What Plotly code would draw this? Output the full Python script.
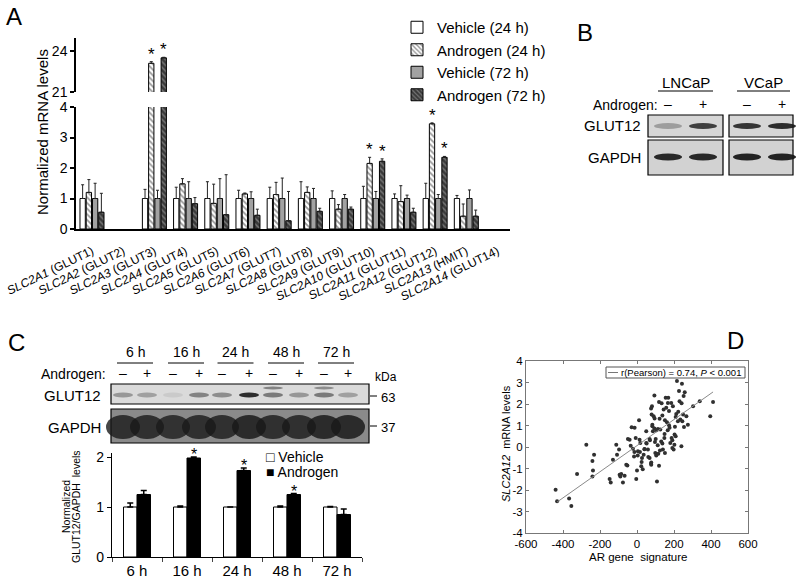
import plotly.graph_objects as go

FONT = "Liberation Sans, Arial, Helvetica, sans-serif"
W, H = 800, 584


def fx(x):
    return x / W


def fy(y):
    return 1 - y / H


# ---------------- Panel A data ----------------
genes = ["SLC2A1", "SLC2A2", "SLC2A3", "SLC2A4", "SLC2A5", "SLC2A6", "SLC2A7",
         "SLC2A8", "SLC2A9", "SLC2A10", "SLC2A11", "SLC2A12", "SLC2A13", "SLC2A14"]
proteins = ["GLUT1", "GLUT2", "GLUT3", "GLUT4", "GLUT5", "GLUT6", "GLUT7",
            "GLUT8", "GLUT9", "GLUT10", "GLUT11", "GLUT12", "HMIT", "GLUT14"]
veh24 = [1.0, None, 1.0, 1.0, 1.0, 1.0, 1.0, 1.0, 1.0, 1.0, 1.0, 1.0, 1.0, None]
veh24_err = [0.45, 0, 0.30, 0.37, 0.55, 0.27, 0.37, 0.55, 0.25, 0.40, 0.15, 0.50, 0.10, 0]
and24 = [1.20, None, 23.1, 1.48, 0.84, 1.15, 1.13, 1.20, 0.65, 2.15, 0.90, 3.45, 0.42, None]
and24_err = [0.42, 0, 0.12, 0.17, 0.63, 0.03, 0.40, 0.18, 0.15, 0.20, 0.52, 0.03, 0.40, 0]
veh72 = [1.0, None, 1.0, 1.0, 1.0, 1.0, 1.0, 1.0, 1.0, 1.0, 1.0, 1.0, 1.0, None]
veh72_err = [0.50, 0, 0.27, 0.55, 0.65, 0.22, 0.67, 0.33, 0.13, 0.23, 0.11, 0.13, 0.28, 0]
and72 = [0.55, None, 23.5, 0.83, 0.47, 0.45, 0.27, 0.58, 0.65, 2.22, 0.55, 2.35, 0.42, None]
and72_err = [0.62, 0, 0.04, 0.20, 1.31, 0.20, 0.96, 0.10, 0.07, 0.08, 0.13, 0.03, 0.20, 0]
sig_and24 = [2, 9, 11]
sig_and72 = [2, 9, 11]

# ---------------- Panel B data (band darkness 0..1) ----------------
b_cells = ["LNCaP", "VCaP"]
b_glut12 = [0.30, 0.80, 0.85, 0.90]
b_gapdh = [0.92, 0.92, 0.95, 0.95]

# ---------------- Panel C data ----------------
timepoints = ["6 h", "16 h", "24 h", "48 h", "72 h"]
c_veh = [1.0, 1.0, 1.0, 1.0, 1.0]
c_veh_err = [0.08, 0.02, 0.0, 0.02, 0.01]
c_and = [1.25, 1.98, 1.73, 1.25, 0.85]
c_and_err = [0.08, 0.02, 0.05, 0.02, 0.11]
sig_c = [1, 2, 3]
c_glut12 = [0.35, 0.30, 0.08, 0.45, 0.40, 0.90, 0.50, 0.35, 0.50, 0.30]
c_glut12_upper = [0, 0, 0, 0, 0, 0, 0.45, 0, 0.40, 0]
c_gapdh = [0.80, 0.80, 0.78, 0.80, 0.80, 0.84, 0.80, 0.80, 0.84, 0.84]

# ---------------- Panel D data ----------------
ar_signature = [-440, -432, -367, -355, -324, -274, -241, -232, -238, -241, -148, -142, -130, -112,
                -108, -97, -94, -90, -85, -76, -67, -58, -52, -49, -40, -34, -29, -22, -16, -13,
                -7, -4, 0, 11, 5, 14, 18, 23, 27, 31, 36, 41, 50, 59, 50, 68, 68, 77, 77, 81, 83,
                86, 90, 94, 95, 99, 101, 104, 108, 113, 119, 119, 122, 126, 131, 137, 140, 144,
                149, 151, 155, 158, 162, 167, 173, 176, 180, 185, 187, 191, 194, 198, 203, 209,
                212, 216, 221, 227, 230, 234, 240, 243, 249, 252, 254, 258, 267, 275, 303, 339,
                396, 411,
                76, 79, 83, 94, 106, 124, 133, 151, 169, 202, 209, 245,
                -14, 4, 16, 25, 40, 52, 61, 70, 76, 97, 112, 115, 137, 148, 166, 173, 191, 205,
                223, 241]
slc2a12_level = [-1.99, -2.52, -2.40, -2.74, -1.26, 0.11, -0.65, -0.36, -1.09, -1.37, -1.49, -1.65,
                 -0.59, 0.11, -0.36, -0.12, -1.29, -1.37, -1.26, -1.65, -1.34, -0.82, -0.86, 0.37,
                 0.34, 0.06, 0.92, -0.08, -0.44, 0.89, 0.42, -1.49, -1.09, 1.25, -0.20, 0.34, 0.19,
                 -0.90, -0.51, -1.03, -0.36, -0.09, 0.19, -0.12, 0.73, 0.37, -0.51, -0.72, -0.82,
                 1.90, 0.97, 0.73, 1.43, 2.40, 1.32, -0.28, 0.37, -0.40, -1.60, 0.84, -0.87, 2.09,
                 1.31, 0.81, 0.26, 1.46, -0.12, 1.74, 0.61, -0.28, 2.29, 1.82, 1.15, 2.05, 1.67,
                 0.89, 0.19, 2.05, 0.42, -0.05, 1.90, -0.12, 0.58, 0.50, 1.54, 3.07, 1.20, 2.60,
                 2.13, 1.28, 0.03, 2.94, 1.51, 2.37, 0.93, 2.55, 1.43, 1.04, 1.90, 2.13, 1.43, 2.09,
                 1.79, 1.51, 1.04, 0.86, 0.78, -0.16, 2.03, 1.25, 2.29, 0.11, 1.40, 1.20,
                 -0.23, -0.39, -0.23, -0.70, -0.11, 0.16, -0.47, 0.31, -0.78, 0.23, 0.08, -0.31,
                 0.16, 0.42, 0.78, 1.01, 0.31, 0.94, 1.64, 2.03]
fit_x = [-432, 411]
fit_y = [-2.56, 2.56]

fig = go.Figure()
shapes = []
annotations = []


def text(x, y, s, size=14, xanchor="center", yanchor="middle", angle=0, color="black"):
    annotations.append(dict(x=fx(x), y=fy(y), xref="paper", yref="paper", text=s, showarrow=False,
                            xanchor=xanchor, yanchor=yanchor, textangle=angle,
                            font=dict(family=FONT, size=size, color=color)))


def rect(x0, y0, x1, y1, fill="white", line="black", lw=1):
    shapes.append(dict(type="rect", xref="paper", yref="paper", x0=fx(x0), x1=fx(x1),
                       y0=fy(y1), y1=fy(y0), fillcolor=fill, line=dict(color=line, width=lw)))


def seg(x0, y0, x1, y1, color="black", lw=1):
    shapes.append(dict(type="line", xref="paper", yref="paper", x0=fx(x0), x1=fx(x1),
                       y0=fy(y0), y1=fy(y1), line=dict(color=color, width=lw)))


def band(cx, cy, w, h, dark):
    if dark <= 0:
        return
    shapes.append(dict(type="circle", xref="paper", yref="paper", x0=fx(cx - w / 2), x1=fx(cx + w / 2),
                       y0=fy(cy + h / 2), y1=fy(cy - h / 2), fillcolor="rgba(25,25,25,%.2f)" % dark,
                       line=dict(width=0)))


# ---------------- Panel A bars ----------------
n = len(genes)
xs = list(range(n))
slot, bw = 0.2, 0.17
seriesA = [
    ("Vehicle (24 h)", veh24, veh24_err, dict(color="white")),
    ("Androgen (24 h)", and24, and24_err,
     dict(color="white", pattern=dict(shape="\\", fgcolor="#303030", bgcolor="white", size=4, solidity=0.45))),
    ("Vehicle (72 h)", veh72, veh72_err, dict(color="#a2a2a2")),
    ("Androgen (72 h)", and72, and72_err,
     dict(color="#3a3a3a", pattern=dict(shape="\\", fgcolor="#b8b8b8", bgcolor="#3a3a3a", size=4, solidity=0.35))),
]
offsetsA = []
for k, (name, vals, errs, mk) in enumerate(seriesA):
    off = -0.4 + k * slot + (slot - bw) / 2
    offsetsA.append(off + bw / 2)
    for xa, ya, show in (("x", "y", True), ("x2", "y2", False)):
        m = dict(mk)
        m["line"] = dict(color="black", width=1)
        fig.add_trace(go.Bar(
            x=xs, y=vals, width=bw, offset=off, name=name, marker=m,
            error_y=dict(type="data", symmetric=False, array=errs, arrayminus=[0] * n,
                         color="#222", thickness=1, width=1.5),
            xaxis=xa, yaxis=ya, showlegend=show, legend="legend", legendgroup=name))

for idxs, k, vals, errs in ((sig_and24, 1, and24, and24_err), (sig_and72, 3, and72, and72_err)):
    for i in idxs:
        top = vals[i] + errs[i]
        annotations.append(dict(x=i + offsetsA[k], y=top, xref="x2" if top > 4 else "x",
                                yref="y2" if top > 4 else "y", text="*", showarrow=False,
                                yanchor="bottom", yshift=-4,
                                font=dict(family=FONT, size=17, color="black")))

# ---------------- Panel C bars ----------------
cw = 0.27
fig.add_trace(go.Bar(x=timepoints, y=c_veh, width=cw, offset=-cw, name="Vehicle",
                     marker=dict(color="white", line=dict(color="black", width=1)),
                     error_y=dict(type="data", symmetric=False, array=c_veh_err, arrayminus=[0] * 5,
                                  color="black", thickness=1.5, width=3),
                     xaxis="x3", yaxis="y3", showlegend=False))
fig.add_trace(go.Bar(x=timepoints, y=c_and, width=cw, offset=0, name="Androgen",
                     marker=dict(color="black", line=dict(color="black", width=1)),
                     error_y=dict(type="data", symmetric=False, array=c_and_err, arrayminus=[0] * 5,
                                  color="black", thickness=1.5, width=3),
                     xaxis="x3", yaxis="y3", showlegend=False))
for i in sig_c:
    annotations.append(dict(x=i + cw / 2, y=c_and[i] + c_and_err[i], xref="x3", yref="y3", text="*",
                            showarrow=False, yanchor="bottom", yshift=-8,
                            font=dict(family=FONT, size=16, color="black")))

# ---------------- Panel D scatter ----------------
fig.add_trace(go.Scatter(x=ar_signature, y=slc2a12_level, mode="markers",
                         marker=dict(size=4, color="#303030"), xaxis="x4", yaxis="y4", showlegend=False))
fig.add_trace(go.Scatter(x=fit_x, y=fit_y, mode="lines", line=dict(color="#8a8a8a", width=1),
                         xaxis="x4", yaxis="y4", showlegend=False))

# ---------------- Panel letters ----------------
text(14, 16, "A", 24)
text(585, 33, "B", 24)
text(16, 342, "C", 24)
text(735, 340, "D", 24)

# Panel A y title
text(42, 132, "Normalized mRNA levels", 15, angle=-90)

# ---------------- Panel B blot ----------------
text(686, 82, "LNCaP", 15)
text(763, 82, "VCaP", 15)
seg(658, 91, 713, 91)
seg(737, 91, 790, 91)
text(660, 105, "Androgen:", 14, xanchor="right")
b_lanes = [668, 703, 747, 782]
for j, xl in enumerate(b_lanes):
    text(xl, 104, "\u2013" if j % 2 == 0 else "+", 14)
text(643, 126, "GLUT12", 15, xanchor="right")
text(643, 157, "GAPDH", 15, xanchor="right")
for (x0, x1) in ((648, 723), (729, 793)):
    rect(x0, 115, x1, 137, fill="#d6d6d6", lw=1.2)
    rect(x0, 140, x1, 175, fill="#d2d2d2", lw=1.2)
for j, xl in enumerate(b_lanes):
    band(xl, 126, 28, 6, b_glut12[j])
    band(xl, 157, 28, 7, b_gapdh[j])

# ---------------- Panel C blot ----------------
c_lanes = [123, 147, 173, 199, 222, 249, 273, 299, 324, 348]
for i, t in enumerate(timepoints):
    cx = (c_lanes[2 * i] + c_lanes[2 * i + 1]) / 2
    text(cx, 352, t, 14)
    seg(cx - 18, 363, cx + 18, 363)
text(108, 374, "Androgen:", 14, xanchor="right")
for j, xl in enumerate(c_lanes):
    text(xl, 373, "\u2013" if j % 2 == 0 else "+", 14)
text(386, 377, "kDa", 12)
text(103, 395, "GLUT12", 15, xanchor="right")
text(103, 427, "GAPDH", 15, xanchor="right")
rect(111, 384, 369, 404, fill="#dadada", lw=1.2)
rect(111, 409, 369, 443, fill="#8a8a8a", lw=1.2)
for j, xl in enumerate(c_lanes):
    band(xl, 395, 20, 5, c_glut12[j])
    band(xl, 388, 20, 3, c_glut12_upper[j])
    band(xl, 427, 34, 24, c_gapdh[j])
seg(370, 396, 377, 396)
text(379, 397, "63", 13, xanchor="left")
seg(370, 426, 377, 426)
text(379, 427, "37", 13, xanchor="left")
text(66, 507, "Normalized", 10.5, angle=-90)
text(76, 507, "GLUT12/GAPDH  levels", 10.5, angle=-90)
# Panel C key
text(264, 457, "\u25a1 Vehicle", 14, xanchor="left")
text(264, 472, "\u25a0 Androgen", 14, xanchor="left")

# ---------------- Panel D texts ----------------
rect(606, 367, 745, 378, fill="white", line="#555", lw=1)
seg(608, 372.5, 618, 372.5, color="#777")
text(619, 372.5, "r(Pearson) = 0.74, <i>P</i> &lt; 0.001", 9.5, xanchor="left")
text(506, 443, "<i>SLC2A12</i>  mRNA levels", 11, angle=-90)
text(638, 557, "AR gene  signature", 11.5)

axis_common = dict(showgrid=False, zeroline=False, color="black",
                   tickfont=dict(family=FONT, size=14, color="black"))

fig.update_layout(
    width=W, height=H, margin=dict(l=0, r=0, t=0, b=0, autoexpand=False),
    paper_bgcolor="white", plot_bgcolor="white",
    font=dict(family=FONT, color="black"),
    barmode="overlay",
    shapes=shapes, annotations=annotations,
    xaxis=dict(domain=[fx(76), fx(510)], range=[-0.513, 13.4], anchor="y",
               tickmode="array", tickvals=xs,
               ticktext=["<i>%s</i> (%s)" % (g, p) for g, p in zip(genes, proteins)],
               tickangle=-26, ticks="outside", ticklen=9, tickcolor="rgba(0,0,0,0)",
               showline=True, linecolor="black", linewidth=1.5,
               ticklabeloverflow="allow",
               showgrid=False, zeroline=False, tickfont=dict(family=FONT, size=12, color="black")),
    yaxis=dict(domain=[fy(229), fy(107)], range=[0, 4], anchor="x", tickvals=[0, 1, 2, 3, 4],
               ticks="outside", ticklen=4, tickwidth=1.5, showline=True, linecolor="black",
               linewidth=1.5, **axis_common),
    xaxis2=dict(domain=[fx(76), fx(510)], range=[-0.513, 13.4], anchor="y2", visible=False),
    yaxis2=dict(domain=[fy(92), fy(38)], range=[21, 24.95], anchor="x2", tickvals=[21, 24],
                ticks="outside", ticklen=4, tickwidth=1.5, showline=True, linecolor="black",
                linewidth=1.5, **axis_common),
    xaxis3=dict(domain=[fx(112), fx(362)], anchor="y3", type="category", tickson="boundaries",
                ticks="outside", ticklen=4, showline=True, linecolor="black", linewidth=1.2,
                showgrid=False, zeroline=False, tickfont=dict(family=FONT, size=15, color="black")),
    yaxis3=dict(domain=[fy(557), fy(453)], range=[0, 2.08], anchor="x3", tickvals=[0, 1, 2],
                ticks="outside", ticklen=4, showline=True, linecolor="black", linewidth=1.2,
                **axis_common),
    xaxis4=dict(domain=[fx(526), fx(748)], range=[-600, 600], anchor="y4",
                tickvals=[-600, -400, -200, 0, 200, 400, 600],
                ticktext=["-600", "-400", "-200", "0", "200", "400", "600"],
                ticks="inside", ticklen=3, mirror="ticks", showline=True, linecolor="#777",
                tickcolor="#777", showgrid=False, zeroline=False,
                tickfont=dict(family=FONT, size=11.5, color="black")),
    yaxis4=dict(domain=[fy(533), fy(361)], range=[-4, 4], anchor="x4",
                tickvals=[-4, -3, -2, -1, 0, 1, 2, 3, 4],
                ticktext=["-4", "-3", "-2", "-1", "0", "1", "2", "3", "4"],
                ticks="inside", ticklen=3, mirror="ticks", showline=True, linecolor="#777",
                tickcolor="#777", showgrid=False, zeroline=False,
                tickfont=dict(family=FONT, size=11.5, color="black")),
    legend=dict(x=fx(397), y=fy(11), xanchor="left", yanchor="top", bgcolor="rgba(0,0,0,0)",
                font=dict(family=FONT, size=15, color="black"), itemwidth=30,
                tracegroupgap=0, itemclick=False, itemdoubleclick=False),
)

fig.write_html("out.html", config={"displayModeBar": False},
               post_script="document.body.style.margin='0';document.body.style.padding='0';"
                           "document.body.style.overflow='hidden';")
